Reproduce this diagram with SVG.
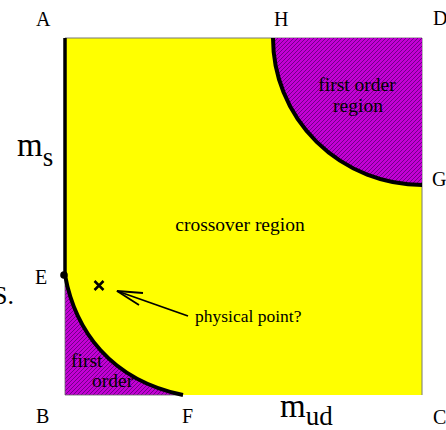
<svg xmlns="http://www.w3.org/2000/svg" width="446" height="430" viewBox="0 0 446 430">
<defs>
<pattern id="hatch" patternUnits="userSpaceOnUse" width="4" height="4">
<rect width="4" height="4" fill="#c400d4"/>
<path d="M-1,1 L1,-1 M0,4 L4,0 M3,5 L5,3" stroke="#70008a" stroke-width="1"/>
</pattern>
<style>
.lbl{font-family:"Liberation Serif","Times New Roman",serif;fill:#000}
.corner{font-size:20px}
.txt{font-size:19.5px}
.bnd{fill:none;stroke:#000;stroke-width:4}
.first{fill:url(#hatch)}
</style>
</defs>
<rect width="446" height="430" fill="#fff"/>
<g id="crossover-region">
<rect x="65" y="38" width="357" height="357" fill="#ffff00"/>
<path d="M65,38 H422 V395" fill="none" stroke="#777" stroke-width="1"/>
<text class="lbl txt" x="240" y="231" text-anchor="middle">crossover region</text>
</g>
<g id="first-order-heavy">
<path class="first" d="M273,38 L422,38 L422,185 A149,147 0 0 1 273,38 Z"/>
<path class="bnd" d="M273,38 A149,147 0 0 0 422,185"/>
<text class="lbl txt" x="357" y="91" text-anchor="middle">first order</text>
<text class="lbl txt" x="358" y="112" text-anchor="middle">region</text>
</g>
<g id="first-order-light">
<path class="first" d="M65,275 C75,330 110,380 183,395 L65,395 Z" stroke="#666" stroke-width="0.8"/>
<path class="bnd" d="M65,275 C75,330 110,380 183,395"/>
<text class="lbl txt" x="71" y="367">first</text>
<text class="lbl txt" x="92" y="387">order</text>
</g>
<g id="axis-ms">
<line x1="65" y1="38" x2="65" y2="275" stroke="#000" stroke-width="3.5"/>
<circle cx="64" cy="275" r="3.8" fill="#000"/>
</g>
<g id="physical-point">
<path d="M94.5,281 L103.5,290 M103.5,281 L94.5,290" stroke="#000" stroke-width="2.5"/>
<text class="lbl" x="195" y="322" font-size="17.5">physical point?</text>
</g>
<g id="connectors">
<line x1="188" y1="316" x2="117" y2="291" stroke="#000" stroke-width="1.8"/>
<polyline points="143,293 117,291 139,305" fill="none" stroke="#000" stroke-width="1.8"/>
</g>
<g id="labels">
<text class="lbl corner" x="36" y="26">A</text>
<text class="lbl corner" x="274" y="26">H</text>
<text class="lbl corner" x="433" y="25">D</text>
<text class="lbl corner" x="432" y="186">G</text>
<text class="lbl corner" x="35" y="284">E</text>
<text class="lbl corner" x="36" y="423">B</text>
<text class="lbl corner" x="182" y="423">F</text>
<text class="lbl corner" x="433" y="424">C</text>
<text class="lbl" x="-7" y="304" font-size="26">S.</text>
<text class="lbl" x="17" y="156" font-size="33">m<tspan font-size="27" y="165.5">s</tspan></text>
<text class="lbl" x="280" y="416.5" font-size="33">m<tspan font-size="27" y="425">ud</tspan></text>
</g>
</svg>
